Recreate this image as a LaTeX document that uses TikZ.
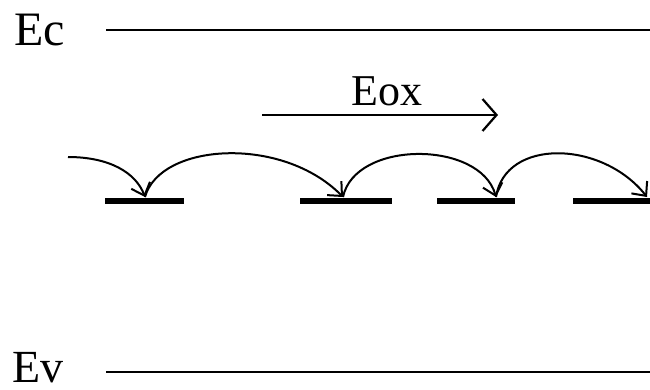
\documentclass[tikz,border=0pt]{standalone}
\usepackage{fontspec}
\setmainfont{Liberation Serif}
\usetikzlibrary{arrows.meta}
\begin{document}
\begin{tikzpicture}[x=1pt,y=-1pt,
  band/.style={line width=2.8pt},
  trapbar/.style={line width=6pt},
  hop/.style={line width=2pt,-{Straight Barb[length=11pt,width=20pt,line width=2pt]}},
  field/.style={line width=2.2pt,-{Straight Barb[length=14pt,width=32pt,line width=2.2pt]}},
  lbl/.style={inner sep=0pt,anchor=base west,font=\fontsize{48}{52}\selectfont},
  lblsmall/.style={inner sep=0pt,anchor=base west,font=\fontsize{44}{48}\selectfont}]
\useasboundingbox (0,0) rectangle (650,389);
% labels
\node[lbl] (ec) at (14,45) {Ec};
\node[lbl,font=\fontsize{46}{50}\selectfont] (ev) at (12,382) {Ev};
\node[lblsmall] (eox) at (351,105) {Eox};
% band lines
\coordinate (ecL) at (106,30);
\coordinate (ecR) at (650,30);
\coordinate (evL) at (106,372);
\coordinate (evR) at (650,372);
\draw[band] (ecL) -- (ecR);
\draw[band] (evL) -- (evR);
% field arrow
\coordinate (fL) at (262,115);
\coordinate (fR) at (498,115);
\draw[field] (fL) -- (fR);
% trap bars
\coordinate (b1L) at (105,201); \coordinate (b1R) at (184,201);
\coordinate (b2L) at (300,201); \coordinate (b2R) at (392,201);
\coordinate (b3L) at (437,201); \coordinate (b3R) at (515,201);
\coordinate (b4L) at (573,201); \coordinate (b4R) at (650,201);
\draw[trapbar] (b1L) -- (b1R);
\draw[trapbar] (b2L) -- (b2R);
\draw[trapbar] (b3L) -- (b3R);
\draw[trapbar] (b4L) -- (b4R);
% hop points
\coordinate (s0) at (68,157);
\coordinate (t1) at (145,197);
\coordinate (t2) at (343,197);
\coordinate (t3) at (496,197);
\coordinate (t4) at (647,197);
\draw[hop] (s0) .. controls (110,157) and (136,173) .. (t1);
\draw[hop] (t1) .. controls (160,143) and (282,135) .. (t2);
\draw[hop] (t2) .. controls (355,140) and (480,140) .. (t3);
\draw[hop] (t3) .. controls (505,138) and (602,140) .. (t4);
\end{tikzpicture}
\end{document}
